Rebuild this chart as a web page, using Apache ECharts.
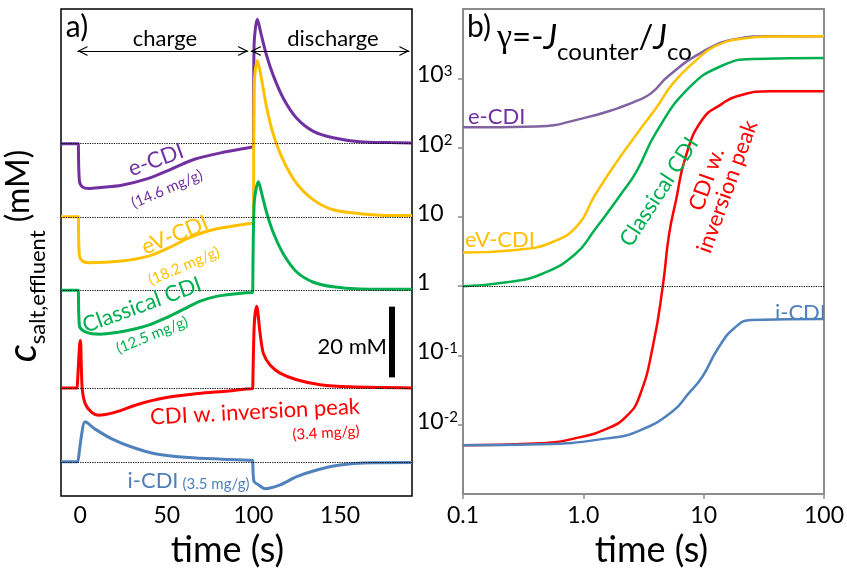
<!DOCTYPE html>
<html>
<head>
<meta charset="utf-8">
<script src="https://cdn.jsdelivr.net/npm/echarts@6/dist/echarts.min.js"></script>
<style>
html, body { margin: 0; background: #fff; }
#chart { width: 847px; height: 573px; }
</style>
</head>
<body>
<div id="chart"></div>
<script>
// panel a) effluent salt concentration, [time s, change in mM vs. own baseline]
const timeLabels = [0, 50, 100, 150]
const baseECdi = 99.7
const baseEvCdi = 79.0
const baseClassical = 58.2
const baseInversion = 30.6
const baseICdi = 9.7

const eCdiA = [[-11, 0], [-1, 0], [-0.6, 0], [-0.4, -10.5], [1.5, -12.3], [5, -12.7], [12, -12.4], [24, -11.75], [39, -9.9], [53, -7.1], [66, -4.4], [82, -2.5], [99.6, -0.95], [100, -0.9], [100.4, 28], [102.3, 35.2], [104.3, 31.3], [107.7, 24.8], [111.5, 19.25], [117.3, 12.8], [125, 7.2], [134.6, 3.5], [146, 1.7], [161.5, 0.55], [179, 0.3], [191.5, 0.2]]
const evCdiA = [[-11, 0], [-1, 0], [-0.6, 0], [-0.4, -11], [1.3, -12.5], [4.8, -13], [24, -12.5], [39.4, -11.1], [51, -8.8], [62.5, -6], [76, -3.7], [99.6, -1.75], [100, -1.7], [100.5, 38], [102.3, 44.2], [104.3, 40], [107.7, 30.8], [111.5, 23.3], [117.3, 15.9], [125, 9.4], [134.6, 4.8], [146, 2.0], [161.5, 0.9], [179, 0.4], [191.5, 0.4]]
const classicalA = [[-11, 0], [-1, 0], [-0.6, 0], [-0.4, -10], [3.8, -11.9], [11.5, -12.4], [21.1, -11.9], [30.8, -11], [40.4, -9.7], [50, -7.7], [59.6, -5.4], [69, -3.1], [78.7, -1.7], [88.5, -1.05], [99.6, -0.6], [100, -0.6], [100.5, 25], [102.9, 30.7], [104.8, 27.4], [107.7, 21.9], [111.5, 16.3], [117.3, 10.3], [125, 5.2], [134.6, 2.3], [146, 1.0], [161.5, 0.4], [191.5, 0.3]]
const inversionA = [[-11, 0], [-1.7, 0], [-1.3, 0], [-0.3, 12], [0.2, 13.4], [1.2, 0], [3, -4.5], [6.7, -6.9], [10.6, -7.7], [20, -6.9], [33.7, -4.6], [49, -2.8], [68, -1.6], [85.6, -0.9], [99.6, -0.2], [100, -0.2], [100.5, 18], [101.9, 23.1], [103.9, 15.3], [105.8, 9.7], [109.6, 6.5], [115.4, 4.2], [125, 2.3], [138.5, 0.9], [155.8, 0.3], [191.5, 0]]
const iCdiA = [[-11, 0], [-1.2, 0], [-0.8, 0], [1, 8], [2.9, 11.3], [8.7, 9.25], [18.3, 6.5], [29.8, 4.2], [43.3, 2.3], [62.5, 1.2], [81.8, 0.75], [99.6, 0.45], [100, 0.45], [100.3, -5.5], [102.9, -6.5], [106.7, -7.6], [115.4, -6.5], [125, -4.2], [136.6, -2.3], [150, -0.9], [169, -0.3], [191.5, -0.2]]

// panel b) gamma = -J_counter / J_co, [time s, gamma]
const eCdiB = [[0.1, 196], [0.408, 202], [1.044, 271], [1.977, 375], [2.772, 471], [3.672, 611], [5.152, 1096], [9.75, 2393], [18.12, 3650], [33.67, 4030], [100, 4030]]
const evCdiB = [[0.1, 3.06], [0.29, 3.37], [0.56, 4.38], [0.9, 7.6], [1.24, 20.2], [1.9, 62.8], [2.93, 178], [4.04, 375], [5.56, 845], [8.55, 1786], [12.45, 2904], [21.87, 3767], [36.3, 4000], [100, 4030]]
const classicalB = [[0.1, 1.0], [0.24, 1.15], [0.45, 1.5], [0.85, 2.87], [1.24, 6.46], [2.01, 20.2], [2.77, 45.4], [4.04, 167], [7.5, 719], [14.2, 1518], [26.4, 1905], [100, 1968]]
const inversionB = [[0.1, 0.00508], [0.449, 0.00542], [0.85, 0.00637], [1.58, 0.00883], [2.3, 0.01347], [2.93, 0.0258], [3.81, 0.144], [4.6, 1.08], [5.15, 5.5], [5.88, 17.1], [7.09, 74], [9.75, 254], [14.2, 428], [19.17, 555], [36.3, 652], [100, 652]]
const iCdiB = [[0.1, 0.00508], [0.449, 0.00525], [1.58, 0.00637], [2.93, 0.00826], [5.56, 0.0158], [7.5, 0.0284], [9.75, 0.0494], [13.18, 0.127], [18.12, 0.251], [24.94, 0.325], [100, 0.336]]

const font = 'Lato'
const purple = '#7030A0'
const yellow = '#FFC000'
const green = '#00B050'
const red = '#FF0000'
const blue = '#4F81BD'

const shift = (pts, base) => pts.map(p => [p[0], p[1] + base])
const deg = d => d * Math.PI / 180
const chevron = 'path://M0,10L5,0L10,10L8.7,10L5,2.6L1.3,10Z'

function lineA(name, pts, base, color) {
    return {
        name, type: 'line', xAxisIndex: 0, yAxisIndex: 0,
        data: shift(pts, base), showSymbol: false, z: 3,
        smooth: 0.3,
        lineStyle: { color, width: 3 }
    }
}
function lineB(name, pts, color) {
    return {
        name, type: 'line', xAxisIndex: 1, yAxisIndex: 1,
        data: pts, showSymbol: false, z: 3,
        smooth: 0.5,
        lineStyle: { color, width: 2.5 }
    }
}
function label(text, x, y, color, size, rot, align) {
    return {
        type: 'text', x, y, rotation: deg(rot || 0), z: 10,
        style: {
            text, fill: color, fontSize: size, fontFamily: font,
            align: align || 'center', verticalAlign: 'middle',
            textAlign: align || 'center', textVerticalAlign: 'middle'
        }
    }
}

const chart = echarts.init(document.getElementById('chart'))

chart.setOption({
    animation: false,
    backgroundColor: '#fff',
    grid: [
        { left: 61, top: 9, width: 351, height: 496, show: true, borderColor: '#000', borderWidth: 1.5 },
        { left: 463, top: 9, width: 368, height: 496, show: true, borderColor: '#8c8c8c', borderWidth: 2 }
    ],
    xAxis: [{
        gridIndex: 0, type: 'value', min: -11, max: 191.5,
        axisLine: { show: false }, axisTick: { show: false }, splitLine: { show: false },
        axisLabel: { customValues: timeLabels, fontSize: 23, fontFamily: font, color: '#000', margin: 8 },
        name: 'time (s)', nameLocation: 'middle', nameGap: 28,
        nameTextStyle: { fontSize: 36, fontFamily: font, color: '#000', padding: [0, 18, 0, 0] }
    }, {
        gridIndex: 1, type: 'log', logBase: 10, min: 0.1, max: 100, splitNumber: 3,
        axisLine: { show: false }, splitLine: { show: false },
        axisTick: { show: true, length: 5, lineStyle: { color: '#8c8c8c', width: 1.5 } },
        axisLabel: {
            fontSize: 23, fontFamily: font, color: '#000', margin: 10,
            formatter: v => v < 0.5 ? '0.1' : (v < 5 ? '1.0' : String(Math.round(v)))
        },
        name: 'time (s)', nameLocation: 'middle', nameGap: 28,
        nameTextStyle: { fontSize: 36, fontFamily: font, color: '#000', padding: [0, 0, 0, 16] }
    }],
    yAxis: [{
        gridIndex: 0, type: 'value', min: 0, max: 137.8,
        axisLine: { show: false }, axisTick: { show: false }, axisLabel: { show: false }, splitLine: { show: false }
    }, {
        gridIndex: 1, type: 'log', logBase: 10, min: 0.001, max: 10000, splitNumber: 7,
        axisLine: { show: false }, splitLine: { show: false },
        axisTick: { show: true, length: 5, lineStyle: { color: '#8c8c8c', width: 1.5 } },
        axisLabel: {
            showMinLabel: false, showMaxLabel: false, align: 'left', margin: 46, color: '#000',
            formatter: v => {
                const e = Math.round(Math.log10(v))
                if (e === 0) return '{b|1}'
                if (e === 1) return '{b|10}'
                return '{b|10}{s|' + e + '}'
            },
            rich: {
                b: { fontSize: 23, fontFamily: font, lineHeight: 30, verticalAlign: 'top', color: '#000' },
                s: { fontSize: 15, fontFamily: font, lineHeight: 15, verticalAlign: 'top', color: '#000' }
            }
        }
    }],
    series: [
        {
            type: 'line', xAxisIndex: 0, yAxisIndex: 0, data: [], z: 1, silent: true,
            markLine: {
                silent: true, symbol: 'none', label: { show: false },
                lineStyle: { color: '#000', type: 'dotted', width: 1.2 },
                data: [baseECdi, baseEvCdi, baseClassical, baseInversion, baseICdi].map(v => ({ yAxis: v }))
            }
        },
        lineA('e-CDI', eCdiA, baseECdi, purple),
        lineA('eV-CDI', evCdiA, baseEvCdi, yellow),
        lineA('Classical CDI', classicalA, baseClassical, green),
        lineA('CDI w. inversion peak', inversionA, baseInversion, red),
        lineA('i-CDI', iCdiA, baseICdi, blue),
        {
            type: 'line', xAxisIndex: 0, yAxisIndex: 0, data: [], z: 4, silent: true,
            markLine: {
                silent: true, label: { show: false },
                symbol: [chevron, chevron], symbolSize: 10, symbolOffset: [[0, 5], [0, 5]],
                lineStyle: { color: '#000', type: 'solid', width: 1 },
                data: [
                    [{ coord: [-1.5, 125.9] }, { coord: [97, 125.9] }],
                    [{ coord: [98.5, 125.9] }, { coord: [190, 125.9] }],
                    // 20 mM scale bar
                    [{ coord: [179.9, 33.6], symbol: 'none', lineStyle: { width: 6 } },
                     { coord: [179.9, 53.6], symbol: 'none' }]
                ]
            }
        },
        {
            type: 'line', xAxisIndex: 1, yAxisIndex: 1, data: [], z: 1, silent: true,
            markLine: {
                silent: true, symbol: 'none', label: { show: false },
                lineStyle: { color: '#000', type: 'dotted', width: 1.2 },
                data: [{ yAxis: 1 }]
            }
        },
        lineB('e-CDI', eCdiB, '#8064A2'),
        lineB('eV-CDI', evCdiB, yellow),
        lineB('Classical CDI', classicalB, green),
        lineB('CDI w. inversion peak', inversionB, red),
        lineB('i-CDI', iCdiB, blue)
    ],
    graphic: [
        label('a)', 77, 27, '#000', 30),
        label('charge', 165, 39, '#000', 22),
        label('discharge', 333, 39, '#000', 22),
        label('e-CDI', 156, 160, purple, 22, 20),
        label('(14.6 mg/g)', 167, 189, purple, 15, 23),
        label('eV-CDI', 175, 235, yellow, 22, 22),
        label('(18.2 mg/g)', 184, 266, yellow, 15, 23),
        label('Classical CDI', 142, 305, green, 22, 20),
        label('(12.5 mg/g)', 152, 335, green, 15, 22),
        label('CDI w. inversion peak', 255, 412, red, 22, 3),
        label('(3.4 mg/g)', 326, 433, red, 15, 3),
        label('i-CDI', 153, 481, blue, 22),
        label('(3.5 mg/g)', 216, 484, blue, 15),
        label('20 mM', 387, 347, '#000', 22, 0, 'right'),
        {
            type: 'text', x: 22, y: 256, rotation: Math.PI / 2, z: 10,
            style: {
                text: '{c|c}{s|salt,effluent}{n| (mM)}',
                align: 'center', verticalAlign: 'middle', textAlign: 'center', textVerticalAlign: 'middle',
                rich: {
                    c: { fontSize: 40, fontStyle: 'italic', fontFamily: font, lineHeight: 38, verticalAlign: 'top', fill: '#000' },
                    s: { fontSize: 22, fontFamily: font, lineHeight: 22, padding: [24, 0, 0, 0], verticalAlign: 'top', fill: '#000' },
                    n: { fontSize: 32, fontFamily: font, lineHeight: 38, verticalAlign: 'top', fill: '#000' }
                }
            }
        },
        label('b)', 479, 27, '#000', 30),
        {
            type: 'text', x: 497, y: 40, z: 10,
            style: {
                text: '{g|γ}{a|=-}{j|J}{s|counter}{a|/}{j|J}{s|co}',
                align: 'left', verticalAlign: 'middle', textAlign: 'left', textVerticalAlign: 'middle',
                rich: {
                    g: { fontSize: 34, fontFamily: 'Liberation Serif', lineHeight: 38, verticalAlign: 'top', fill: '#000' },
                    a: { fontSize: 33, fontFamily: font, lineHeight: 38, verticalAlign: 'top', fill: '#000' },
                    j: { fontSize: 34, fontFamily: font, fontStyle: 'italic', lineHeight: 38, verticalAlign: 'top', fill: '#000' },
                    s: { fontSize: 24, fontFamily: font, lineHeight: 24, padding: [19, 0, 0, 0], verticalAlign: 'top', fill: '#000' }
                }
            }
        },
        label('e-CDI', 468, 117, purple, 22, 0, 'left'),
        label('eV-CDI', 465, 240, yellow, 22, 0, 'left'),
        label('Classical CDI', 659, 192, green, 22, 57),
        label('CDI w.\ninversion peak', 717, 183, red, 22, 70),
        label('i-CDI', 826, 313, blue, 22, 0, 'right')
    ]
})
</script>
</body>
</html>
